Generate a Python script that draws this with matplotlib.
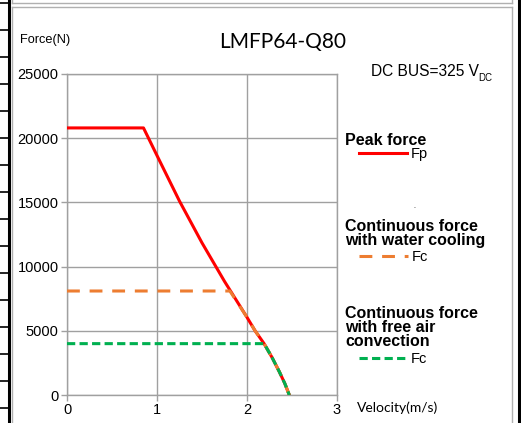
import matplotlib
matplotlib.use("Agg")
import matplotlib.pyplot as plt
from matplotlib.lines import Line2D

# data
peak_v = [0, 0.85, 1.0, 1.25, 1.5, 1.75, 2.0, 2.09, 2.19, 2.28, 2.36, 2.42, 2.47]
peak_f = [20800, 20800, 18650, 15100, 11850, 8850, 6050, 5000, 4000, 2900, 1800, 900, 0]
water_v = [0, 1.81, 2.0, 2.09, 2.19, 2.28, 2.36, 2.42, 2.47]
water_f = [8100, 8100, 6050, 5000, 4000, 2900, 1800, 900, 0]
air_v = [0, 2.19, 2.28, 2.36, 2.42, 2.47]
air_f = [4000, 4000, 2900, 1800, 900, 0]
x_ticks = [0, 1, 2, 3]
y_ticks = [0, 5000, 10000, 15000, 20000, 25000]

W, H = 521, 423
RED = "#FF0000"
ORANGE = "#ED7D31"
GREEN = "#00B050"
GRID = "#A0A0A0"
LW = 2.2
orange_dash = (0, (4.2, 3.2))
green_dash = (0, (2.7, 1.4))

plt.rcParams["font.family"] = ["Liberation Sans", "DejaVu Sans"]

fig = plt.figure(figsize=(W / 100, H / 100), dpi=100)


def fx(x):
    return x / W


def fy(y):
    return 1 - y / H


def fig_line(xs, ys, **kw):
    fig.add_artist(Line2D([fx(x) for x in xs], [fy(y) for y in ys], **kw))


# page decorations around the chart
fig_line([8.5, 8.5], [0, H], color="black", lw=2.2)
for yy in range(3, H, 27):
    fig_line([0, 8.5], [yy, yy], color="black", lw=1.2)
fig_line([518.5, 518.5], [0, H], color="black", lw=2.2)
fig_line([11.5, 11.5], [0, 3], color="#B0B0B0", lw=1.0)
fig_line([11.5, 511.5], [3, 3], color="#B0B0B0", lw=1.0)
fig_line([511.5, 511.5], [0, 3], color="#B0B0B0", lw=1.0)
fig_line([11.5, 511.5], [7.5, 7.5], color="#B0B0B0", lw=1.0)
fig_line([11.5, 11.5], [7.5, H], color="#B0B0B0", lw=1.0)
fig_line([511.5, 511.5], [7.5, H], color="#B0B0B0", lw=1.0)

ax = fig.add_axes([fx(67), fy(395), 270 / W, 321 / H])
ax.plot(peak_v, peak_f, color=RED, lw=LW, zorder=3)
ax.plot(water_v, water_f, color=ORANGE, lw=LW, ls=orange_dash, zorder=4)
ax.plot(air_v, air_f, color=GREEN, lw=LW, ls=green_dash, zorder=5)

ax.set_xlim(0, 3)
ax.set_ylim(0, 25000)
ax.set_xticks(x_ticks)
ax.set_yticks(y_ticks)
ax.set_xticklabels([str(t) for t in x_ticks])
ax.set_yticklabels([str(t) for t in y_ticks])
ax.grid(True, color=GRID, lw=1.0)
ax.set_axisbelow(True)
for s in ax.spines.values():
    s.set_color(GRID)
    s.set_linewidth(1.0)
ax.tick_params(direction="out", length=4, width=1.0, color=GRID,
               labelsize=10.5, pad=2)

# titles and axis names
fig.text(fx(283), fy(42), "LMFP64-Q80", fontsize=15, family=["Lato", "DejaVu Sans"],
         ha="center", va="center")
fig.text(fx(20), fy(40), "Force(N)", fontsize=9.2, ha="left", va="center")
fig.text(fx(357), fy(408), "Velocity(m/s)", fontsize=10, family=["Lato", "DejaVu Sans"],
         ha="left", va="center")
fig.text(fx(371), fy(72), "DC BUS=325 V", fontsize=11.2, ha="left", va="center")
fig.text(fx(478), fy(78), "DC", fontsize=7, ha="left", va="center")

# legend drawn by hand beside the plot
def bold_lines(lines, y0, step=14.5):
    for i, t in enumerate(lines):
        fig.text(fx(345), fy(y0 + i * step), t, fontsize=11.5, weight="bold",
                 ha="left", va="center")


bold_lines(["Peak force"], 140)
fig_line([359, 407], [153, 153], color=RED, lw=LW)
fig.text(fx(411), fy(154), "Fp", fontsize=10.5, ha="left", va="center")

fig.text(fx(414), fy(207), ".", fontsize=5, ha="center", va="center")
bold_lines(["Continuous force", "with water cooling"], 226)
fig_line([359, 408], [256, 256], color=ORANGE, lw=LW, ls=orange_dash)
fig.text(fx(412), fy(257), "Fc", fontsize=10.5, ha="left", va="center")

bold_lines(["Continuous force", "with free air", "convection"], 313)
fig_line([359, 407], [358, 358], color=GREEN, lw=LW, ls=green_dash)
fig.text(fx(411), fy(359), "Fc", fontsize=10.5, ha="left", va="center")

fig.savefig("out.png", dpi=100)
